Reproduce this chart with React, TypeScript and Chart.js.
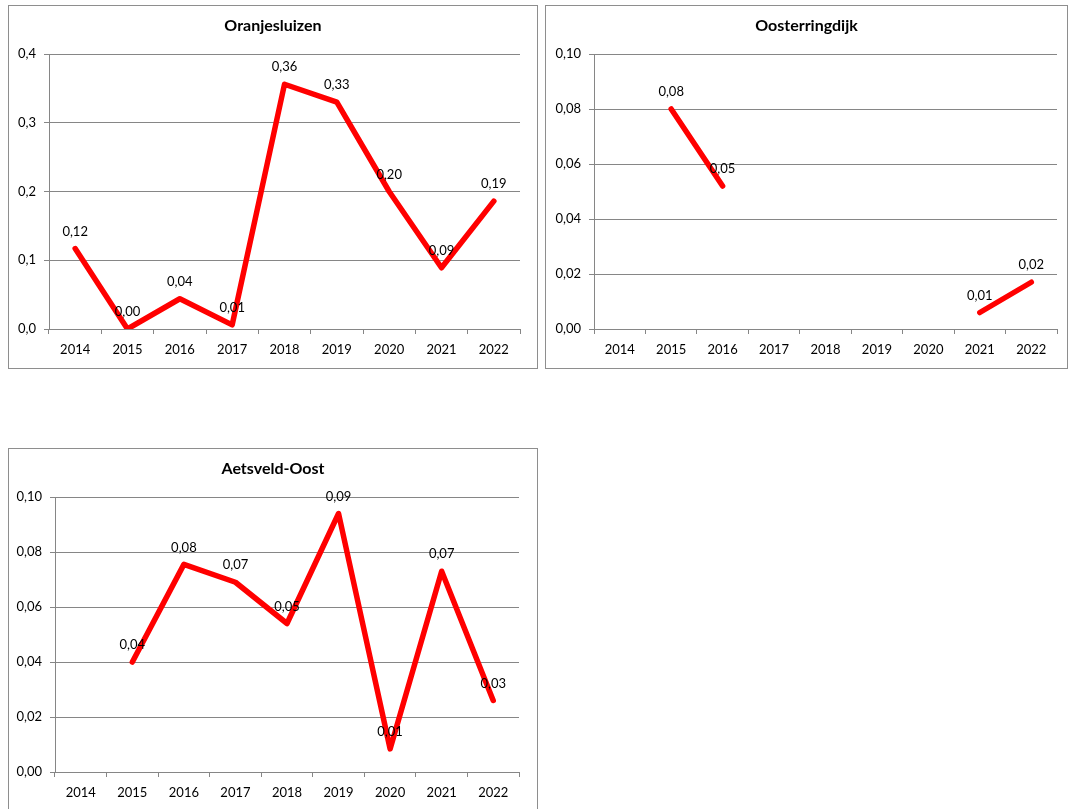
import React, { useEffect, useRef } from "react";
import { Chart, registerables } from "chart.js";

Chart.register(...registerables);

// Categories and measured values per location (null = no measurement)
const years = ["2014", "2015", "2016", "2017", "2018", "2019", "2020", "2021", "2022"];
const oranjesluizenValues: (number | null)[] = [0.117, 0.0, 0.044, 0.006, 0.356, 0.33, 0.2, 0.089, 0.186];
const oosterringdijkValues: (number | null)[] = [null, 0.08, 0.052, null, null, null, null, 0.006, 0.017];
const aetsveldOostValues: (number | null)[] = [null, 0.04, 0.0755, 0.069, 0.054, 0.094, 0.0084, 0.073, 0.026];

// Y-axis tick values
const ticksLarge = [0, 0.1, 0.2, 0.3, 0.4];
const ticksSmall = [0, 0.02, 0.04, 0.06, 0.08, 0.1];

const GRID = "#868686";
const BOX = "#8e8e8e";
const FONT = "Lato, 'Open Sans', sans-serif";

const fmt = (v: number, d: number) => v.toFixed(d).replace(".", ",");

type PanelProps = {
  title: string;
  values: (number | null)[];
  yTicks: number[];
  tickDecimals: number;
  left: number;
  top: number;
  width: number;
  height: number;
  axisWidth: number;
  rightPad: number;
};

function Panel(p: PanelProps) {
  const ref = useRef<HTMLCanvasElement>(null);
  const innerW = p.width - 2;
  const innerH = p.height - 2;

  useEffect(() => {
    // Writes each point's value just above it
    const valueLabels = {
      id: "valueLabels",
      afterDatasetsDraw(chart: any) {
        const ctx = chart.ctx;
        const meta = chart.getDatasetMeta(0);
        ctx.save();
        ctx.font = `13px ${FONT}`;
        ctx.fillStyle = "#000";
        ctx.textAlign = "center";
        ctx.textBaseline = "middle";
        meta.data.forEach((pt: any, i: number) => {
          const v = p.values[i];
          if (v == null) return;
          ctx.fillText(fmt(v, 2), pt.x, pt.y - 17);
        });
        ctx.restore();
      },
    };

    const chart = new Chart(ref.current as HTMLCanvasElement, {
      type: "line",
      data: {
        labels: years,
        datasets: [
          {
            data: p.values,
            borderColor: "#ff0000",
            backgroundColor: "#ff0000",
            borderWidth: 5.5,
            pointRadius: 0,
            pointHoverRadius: 0,
            borderCapStyle: "round",
            borderJoinStyle: "round",
            tension: 0,
            fill: false,
          },
        ],
      },
      options: {
        responsive: false,
        animation: false,
        devicePixelRatio: 1,
        layout: { padding: 0 },
        plugins: {
          legend: { display: false },
          tooltip: { enabled: false },
          title: {
            display: true,
            text: p.title,
            color: "#000",
            font: { family: FONT, size: 16, weight: "bold" },
            padding: { top: 10.5, bottom: 18.3 },
          },
        },
        scales: {
          x: {
            offset: true,
            grid: {
              offset: true,
              drawOnChartArea: false,
              drawTicks: true,
              tickLength: 5,
              color: GRID,
            },
            border: { display: true, color: GRID },
            ticks: {
              color: "#000",
              font: { family: FONT, size: 13 },
              padding: 8,
              maxRotation: 0,
              autoSkip: false,
            },
            afterFit(s: any) {
              s.height = 39;
            },
          },
          y: {
            min: 0,
            max: p.yTicks[p.yTicks.length - 1],
            afterBuildTicks(s: any) {
              s.ticks = p.yTicks.map((v) => ({ value: v }));
            },
            grid: { color: GRID, tickLength: 5 },
            border: { display: true, color: GRID },
            ticks: {
              color: "#000",
              font: { family: FONT, size: 13 },
              padding: 8,
              callback: (v: any) => fmt(Number(v), p.tickDecimals),
            },
            afterFit(s: any) {
              s.width = p.axisWidth;
            },
          },
          // Empty right-hand axis that only reserves the right margin
          spacer: {
            type: "linear",
            position: "right",
            grid: { display: false },
            border: { display: false },
            ticks: { display: false },
            afterFit(s: any) {
              s.width = p.rightPad;
            },
          },
        },
      } as any,
      plugins: [valueLabels],
    });
    return () => chart.destroy();
  }, []);

  return (
    <div
      style={{
        position: "absolute",
        left: p.left,
        top: p.top,
        width: p.width,
        height: p.height,
        boxSizing: "border-box",
        border: `1px solid ${BOX}`,
        background: "#fff",
      }}
    >
      <canvas ref={ref} width={innerW} height={innerH} style={{ display: "block", width: innerW, height: innerH }} />
    </div>
  );
}

export default function App() {
  return (
    <div
      style={{
        position: "absolute",
        left: 0,
        top: 0,
        width: 1074,
        height: 809,
        overflow: "hidden",
        background: "#fff",
      }}
    >
      <Panel
        title="Oranjesluizen"
        values={oranjesluizenValues}
        yTicks={ticksLarge}
        tickDecimals={1}
        left={8}
        top={5}
        width={530}
        height={364}
        axisWidth={40}
        rightPad={17}
      />
      <Panel
        title="Oosterringdijk"
        values={oosterringdijkValues}
        yTicks={ticksSmall}
        tickDecimals={2}
        left={545}
        top={5}
        width={523}
        height={364}
        axisWidth={48}
        rightPad={10}
      />
      <Panel
        title="Aetsveld-Oost"
        values={aetsveldOostValues}
        yTicks={ticksSmall}
        tickDecimals={2}
        left={8}
        top={448}
        width={530}
        height={364}
        axisWidth={46}
        rightPad={18}
      />
    </div>
  );
}
